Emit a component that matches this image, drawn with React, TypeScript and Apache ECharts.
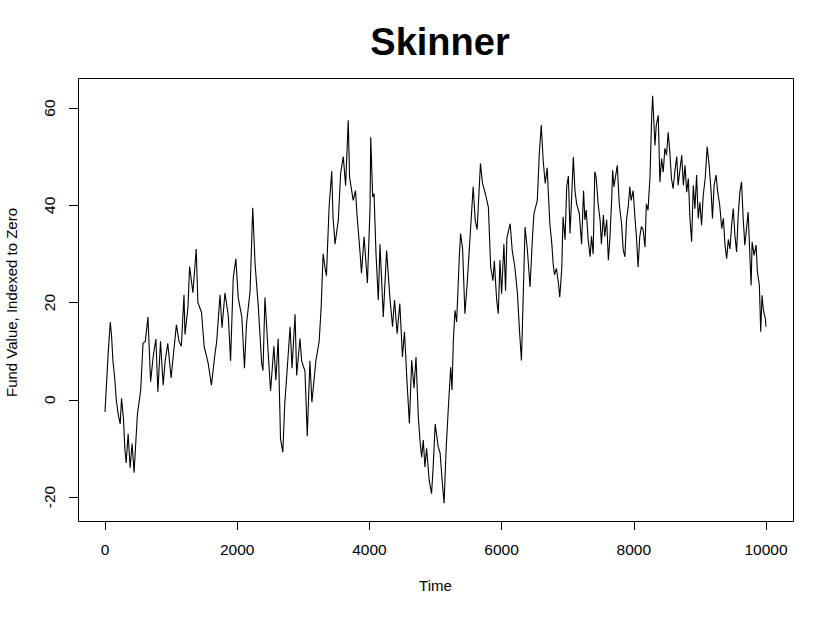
import { useEffect, useRef } from "react";
import * as echarts from "echarts";

const chartTitle = "Skinner";
const xTicks = [0, 2000, 4000, 6000, 8000, 10000];
const yTicks = [-20, 0, 20, 40, 60];

// time steps
const fundTime = [
  0, 20, 50, 80, 100, 120, 150, 170, 200, 230, 250, 280, 300, 320, 350, 380, 410, 440, 490, 540,
  575, 610, 650, 690, 730, 770, 800, 840, 880, 910, 950, 1000, 1040, 1080, 1120, 1155, 1195, 1210, 1255, 1280,
  1330, 1380, 1405, 1460, 1500, 1560, 1610, 1660, 1690, 1740, 1770, 1815, 1865, 1900, 1940, 1980, 2015, 2070, 2110, 2140,
  2195, 2235, 2270, 2320, 2370, 2390, 2420, 2470, 2505, 2555, 2585, 2620, 2655, 2690, 2720, 2750, 2800, 2830, 2875, 2900,
  2950, 2975, 3025, 3060, 3100, 3130, 3190, 3240, 3270, 3300, 3330, 3350, 3390, 3430, 3450, 3480, 3530, 3565, 3605, 3640,
  3680, 3700, 3755, 3790, 3815, 3860, 3880, 3920, 3970, 4010, 4020, 4050, 4070, 4100, 4135, 4160, 4210, 4260, 4310, 4350,
  4380, 4420, 4460, 4500, 4530, 4550, 4565, 4605, 4640, 4675, 4705, 4740, 4765, 4790, 4815, 4840, 4865, 4905, 4940, 4965,
  4995, 5040, 5070, 5100, 5130, 5160, 5195, 5230, 5250, 5270, 5295, 5320, 5360, 5380, 5410, 5445, 5480, 5520, 5570, 5600,
  5630, 5680, 5710, 5750, 5800, 5835, 5870, 5890, 5925, 5950, 5975, 6000, 6035, 6060, 6080, 6130, 6160, 6200, 6240, 6270,
  6300, 6320, 6355, 6390, 6430, 6470, 6490, 6540, 6570, 6600, 6630, 6660, 6690, 6710, 6730, 6760, 6780, 6800, 6830, 6860,
  6880, 6910, 6930, 6960, 6985, 7010, 7035, 7060, 7085, 7110, 7135, 7175, 7210, 7240, 7260, 7280, 7310, 7340, 7360, 7385,
  7410, 7430, 7460, 7490, 7510, 7540, 7560, 7590, 7615, 7640, 7665, 7680, 7700, 7750, 7780, 7815, 7840, 7865, 7890, 7915,
  7940, 7960, 7990, 8020, 8040, 8065, 8090, 8115, 8140, 8170, 8190, 8215, 8245, 8270, 8285, 8320, 8340, 8370, 8395, 8420,
  8445, 8470, 8495, 8520, 8545, 8570, 8595, 8620, 8650, 8670, 8700, 8725, 8750, 8775, 8800, 8825, 8850, 8875, 8900, 8925,
  8950, 8975, 9000, 9025, 9050, 9080, 9110, 9140, 9170, 9190, 9215, 9245, 9270, 9300, 9330, 9355, 9380, 9405, 9430, 9455,
  9480, 9505, 9530, 9555, 9580, 9605, 9630, 9655, 9680, 9705, 9730, 9760, 9775, 9790, 9820, 9850, 9870, 9900, 9920, 9940,
  9960, 9990, 10000,
];

// fund value, indexed to zero
const fundValue = [
  -2.5, 2.6, 10, 16, 13, 8, 4, 0, -3, -5, 0.3, -4, -10, -13, -7, -14, -9, -15, -3, 2,
  11.6, 12, 17, 3.7, 9, 12.5, 1.6, 12, 3, 8, 11.6, 4.5, 10, 15.4, 12, 11, 21.6, 13.4, 19, 27.4,
  22, 31, 20, 18, 11, 7.6, 3, 9, 12, 21.6, 14.8, 22, 17.3, 8, 25, 29, 21, 17, 6.5, 15.5,
  22.3, 39.5, 28, 19, 7.5, 6, 21, 9.3, 1.8, 11, 4, 12.6, -8, -10.8, -0.7, 5, 15, 6.5, 17.6, 5,
  12.6, 8, 5.9, -7.5, 8, -0.5, 8, 12, 19, 30, 27, 25.5, 39.6, 47, 37.6, 32, 37, 46.6, 50, 44,
  57.5, 45.8, 41, 43, 37.6, 30, 26, 33.5, 24, 39.6, 54, 41.7, 42.4, 30, 20.5, 32, 17, 30.7, 21, 15,
  20.5, 13.6, 19.8, 8.8, 14, 9, 4.7, -4.9, 8.1, 2.4, 8.8, -3.5, -8.3, -11.8, -8.3, -13.8, -10, -16.6, -19.3, -13.8,
  -5, -9.6, -11, -16.5, -21.3, -10.4, -1.5, 6.7, 2, 12.2, 18.4, 16, 29.4, 34.2, 31, 17.7, 24, 32.8, 43.8, 37,
  35, 48.6, 44.6, 42.6, 39.6, 27.3, 24.5, 28.6, 20.5, 17.7, 28.7, 21.8, 32, 22.4, 33.3, 36.2, 30.8, 27.3, 21.8, 14.3,
  8.1, 17.7, 35.5, 30.8, 23.2, 34.2, 38.3, 41, 50.6, 56.5, 49, 44.5, 47.7, 41.7, 36.2, 32, 28, 25.7, 27, 23.9,
  21.1, 27, 37.6, 32.9, 43.8, 46, 34.2, 41.7, 49.9, 43, 40.3, 38.3, 32, 43, 37, 39, 32.8, 29.4, 33.6, 30,
  46.9, 45.8, 40.3, 37, 32, 38, 33.6, 37, 28.7, 33.6, 41, 47.2, 43.8, 48.2, 40.3, 36.2, 30.8, 29.4, 37, 39.6,
  43.8, 41, 43, 37, 33.5, 27.3, 33.5, 35.6, 35, 31.4, 40.3, 39, 45.8, 58, 62.5, 52.3, 56.5, 58.5, 44.8, 49.6,
  46.8, 51.7, 50.3, 55, 51, 45.5, 43.4, 46.8, 50, 44.1, 47.5, 50.3, 44.1, 48.2, 42.7, 45.5, 37.3, 32.5, 44.1, 39.3,
  46.2, 37.3, 40.6, 35.9, 42, 45.5, 52, 48.2, 42.7, 37.3, 44.1, 46.2, 42.7, 40, 35.2, 37.3, 31.8, 29, 33, 31,
  35.9, 39.3, 33.8, 30.4, 38, 42.7, 44.8, 37.3, 31.8, 35.2, 38.6, 28.3, 23.5, 32.5, 29.7, 31.8, 26.3, 23.5, 14, 21.5,
  18.5, 16.7, 15,
];

const FONT = "'Liberation Sans', Arial, Helvetica, sans-serif";

export default function App() {
  const rootRef = useRef<HTMLDivElement>(null);

  useEffect(() => {
    if (!rootRef.current) return;
    const chart = echarts.init(rootRef.current, undefined, {
      renderer: "svg",
      width: 833,
      height: 619,
    });

    const points = fundTime.map((t, i) => [t, fundValue[i]]);

    chart.setOption({
      animation: false,
      backgroundColor: "#ffffff",
      title: {
        text: chartTitle,
        left: 435,
        top: 18,
        textAlign: "center",
        textStyle: { fontFamily: FONT, fontSize: 38, fontWeight: "bold", color: "#000" },
      },
      // the box around the plot region
      graphic: [
        {
          type: "rect",
          shape: { x: 78.5, y: 78.5, width: 715, height: 443 },
          style: { fill: "none", stroke: "#000", lineWidth: 1 },
          silent: true,
        },
      ],
      grid: { left: 105, right: 67, top: 108, bottom: 122, outerBoundsMode: "none", containLabel: false },
      xAxis: {
        type: "value",
        min: 0,
        max: 10000,
        interval: 2000,
        offset: 24,
        name: "Time",
        nameLocation: "middle",
        nameGap: 57,
        nameTextStyle: { fontFamily: FONT, fontSize: 15, color: "#000" },
        axisLine: { show: false, onZero: false },
        axisTick: { show: true, length: 9, lineStyle: { color: "#000", width: 1 } },
        axisLabel: {
          margin: 20,
          fontFamily: FONT,
          fontSize: 15.5,
          color: "#000",
          customValues: xTicks,
          formatter: (v: number) => String(v),
        },
        splitLine: { show: false },
      },
      yAxis: {
        type: "value",
        min: -20,
        max: 60,
        interval: 20,
        offset: 27,
        name: "Fund Value, Indexed to Zero",
        nameLocation: "middle",
        nameGap: 59,
        nameTextStyle: { fontFamily: FONT, fontSize: 15, color: "#000" },
        axisLine: { show: false, onZero: false },
        axisTick: { show: true, length: 9, lineStyle: { color: "#000", width: 1 } },
        axisLabel: {
          margin: 21,
          rotate: 90,
          fontFamily: FONT,
          fontSize: 15.5,
          color: "#000",
          customValues: yTicks,
          formatter: (v: number) => String(v),
        },
        splitLine: { show: false },
      },
      series: [
        {
          type: "line",
          data: points,
          showSymbol: false,
          clip: false,
          lineStyle: { color: "#000", width: 1.1 },
        },
      ],
    });

    return () => {
      chart.dispose();
    };
  }, []);

  return (
    <div
      ref={rootRef}
      style={{ position: "absolute", left: 0, top: 0, width: 833, height: 619 }}
    />
  );
}
